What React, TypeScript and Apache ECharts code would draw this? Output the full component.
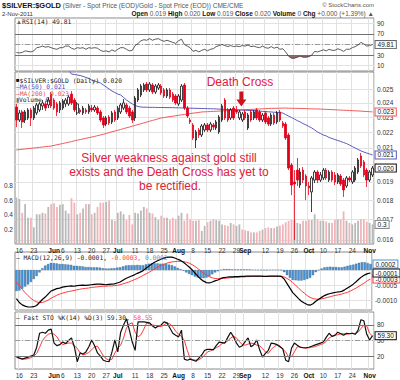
import React, { useEffect, useRef } from "react";
import * as echarts from "echarts";

// ---------- calendar (trading days) ----------
const MAY_DAYS = [13, 16, 17, 18, 19, 20, 23, 24, 25, 26, 27, 30, 31];
const JUN_DAYS = [1, 2, 3, 6, 7, 8, 9, 10, 13, 14, 15, 16, 17, 20, 21, 22, 23, 24, 27, 28, 29, 30];
const JUL_DAYS = [1, 4, 5, 6, 7, 8, 11, 12, 13, 14, 15, 18, 19, 20, 21, 22, 25, 26, 27, 28, 29];
const AUG_DAYS = [1, 2, 3, 4, 5, 8, 9, 10, 11, 12, 15, 16, 17, 18, 19, 22, 23, 24, 25, 26, 29, 30, 31];
const SEP_DAYS = [1, 2, 5, 6, 7, 8, 9, 12, 13, 14, 15, 16, 19, 20, 21, 22, 23, 26, 27, 28, 29, 30];
const OCT_DAYS = [3, 4, 5, 6, 7, 10, 11, 12, 13, 14, 17, 18, 19, 20, 21, 24, 25, 26, 27, 28, 31];
const NOV_DAYS = [1, 2];

const pad = (d: number) => (d < 10 ? "0" + d : "" + d);
const DATES: string[] = [
  ...MAY_DAYS.map((d) => `2011-05-${pad(d)}`),
  ...JUN_DAYS.map((d) => `2011-06-${pad(d)}`),
  ...JUL_DAYS.map((d) => `2011-07-${pad(d)}`),
  ...AUG_DAYS.map((d) => `2011-08-${pad(d)}`),
  ...SEP_DAYS.map((d) => `2011-09-${pad(d)}`),
  ...OCT_DAYS.map((d) => `2011-10-${pad(d)}`),
  ...NOV_DAYS.map((d) => `2011-11-${pad(d)}`),
];

const LABEL_DATES = [
  "2011-05-16", "2011-05-23", "2011-06-01", "2011-06-06", "2011-06-13", "2011-06-20", "2011-06-27",
  "2011-07-01", "2011-07-11", "2011-07-18", "2011-07-25", "2011-08-01", "2011-08-08", "2011-08-15",
  "2011-08-22", "2011-08-29", "2011-09-01", "2011-09-12", "2011-09-19", "2011-09-26", "2011-10-03",
  "2011-10-10", "2011-10-17", "2011-10-24", "2011-11-01",
];
const LABEL_TEXT = [
  "16", "23", "Jun", "6", "13", "20", "27", "Jul", "11", "18", "25", "Aug", "8", "15",
  "22", "29", "Sep", "12", "19", "26", "Oct", "10", "17", "24", "Nov",
];

// ---------- price (OHLC) ----------
const OPEN = [
  0.0237, 0.02281, 0.02336, 0.02281, 0.02295, 0.0235, 0.02295, 0.02329, 0.0235, 0.02378,
  0.02392, 0.02385, 0.02463, 0.0242, 0.02392, 0.0235, 0.02363, 0.02392, 0.02392, 0.02463,
  0.0242, 0.02329, 0.0235, 0.02329, 0.0235, 0.02336, 0.02363, 0.0235, 0.02363, 0.02336,
  0.02295, 0.02254, 0.02301, 0.02268, 0.02336, 0.02295, 0.02336, 0.02363, 0.02385, 0.02363,
  0.02336, 0.02295, 0.0242, 0.02456, 0.02493, 0.02537, 0.02493, 0.0253, 0.02478, 0.02507,
  0.02522, 0.02493, 0.02449, 0.02493, 0.02463, 0.02449, 0.02392, 0.0242, 0.0253, 0.02363,
  0.02281, 0.02248, 0.0215, 0.02215, 0.02182, 0.02215, 0.02248, 0.02215, 0.02248, 0.02228,
  0.02202, 0.02281, 0.0242, 0.0235, 0.02295, 0.02363, 0.0235, 0.02295, 0.02281, 0.02336,
  0.02228, 0.02336, 0.02295, 0.0235, 0.02336, 0.02281, 0.02329, 0.02295, 0.02254, 0.02315,
  0.02268, 0.02336, 0.02261, 0.02254, 0.02182, 0.01997, 0.01899, 0.01967, 0.01882, 0.01967,
  0.01933, 0.01877, 0.01844, 0.0191, 0.01956, 0.0191, 0.01922, 0.01967, 0.0191, 0.01956,
  0.01939, 0.01899, 0.01933, 0.0191, 0.01877, 0.01922, 0.01899, 0.0191, 0.01956, 0.02051,
  0.02015, 0.01967, 0.0191, 0.01939,
];
const CLOSE = [
  0.02281, 0.02329, 0.02268, 0.02336, 0.0235, 0.02295, 0.02363, 0.02385, 0.02392, 0.02399,
  0.02363, 0.0242, 0.02378, 0.02363, 0.02336, 0.02399, 0.02413, 0.0242, 0.02441, 0.02399,
  0.0235, 0.02392, 0.02336, 0.02363, 0.02336, 0.02378, 0.0235, 0.0237, 0.02329, 0.02281,
  0.02248, 0.02295, 0.02261, 0.02329, 0.02281, 0.02363, 0.02385, 0.02399, 0.02336, 0.02308,
  0.02281, 0.02434, 0.02493, 0.02522, 0.0253, 0.02493, 0.02537, 0.02478, 0.02522, 0.0253,
  0.02471, 0.02449, 0.02493, 0.02441, 0.0242, 0.02399, 0.02449, 0.02522, 0.02363, 0.02308,
  0.02268, 0.02163, 0.02202, 0.02182, 0.02241, 0.02248, 0.02215, 0.02254, 0.02234, 0.02268,
  0.02301, 0.02378, 0.02295, 0.02281, 0.0235, 0.02295, 0.02336, 0.02336, 0.02322, 0.02295,
  0.02315, 0.02281, 0.02336, 0.02295, 0.02281, 0.02315, 0.02268, 0.02254, 0.02315, 0.02261,
  0.02329, 0.02281, 0.02241, 0.02163, 0.01979, 0.01882, 0.01888, 0.0191, 0.01956, 0.0191,
  0.01877, 0.01866, 0.01922, 0.01956, 0.0191, 0.01939, 0.01967, 0.01922, 0.01956, 0.0191,
  0.01899, 0.01939, 0.01888, 0.01855, 0.01922, 0.0191, 0.01956, 0.01979, 0.02027, 0.01991,
  0.01939, 0.0191, 0.01956, 0.01979,
];
const LOW = [
  0.02234, 0.02268, 0.02228, 0.02261, 0.02281, 0.02241, 0.02281, 0.02315, 0.02336, 0.0235,
  0.02343, 0.02363, 0.02363, 0.0235, 0.02308, 0.02329, 0.0235, 0.0237, 0.02378, 0.02385,
  0.02336, 0.02315, 0.02322, 0.02315, 0.02322, 0.02322, 0.02336, 0.02336, 0.02315, 0.02268,
  0.02228, 0.02241, 0.02248, 0.02254, 0.02268, 0.02281, 0.02322, 0.0235, 0.02322, 0.02295,
  0.02261, 0.02274, 0.02406, 0.02441, 0.02478, 0.02478, 0.02478, 0.02463, 0.02463, 0.02493,
  0.02456, 0.02434, 0.02434, 0.02427, 0.02406, 0.02385, 0.02378, 0.02406, 0.0235, 0.02295,
  0.02254, 0.0215, 0.021, 0.02163, 0.02169, 0.02202, 0.02202, 0.02202, 0.02215, 0.02215,
  0.02189, 0.02268, 0.02281, 0.02268, 0.02281, 0.02281, 0.02322, 0.02281, 0.02268, 0.02281,
  0.02215, 0.02268, 0.02281, 0.02281, 0.02268, 0.02268, 0.02254, 0.02241, 0.02241, 0.02248,
  0.02254, 0.02268, 0.02228, 0.0215, 0.01967, 0.01827, 0.016, 0.01877, 0.01866, 0.01893,
  0.018, 0.01827, 0.01738, 0.01893, 0.01893, 0.01899, 0.0191, 0.0191, 0.01899, 0.01899,
  0.01882, 0.01888, 0.01877, 0.01817, 0.01866, 0.01899, 0.01888, 0.01899, 0.01944, 0.01979,
  0.01927, 0.01871, 0.01899, 0.01927,
];
const HIGH = [
  0.02392, 0.0235, 0.0235, 0.0235, 0.02363, 0.02363, 0.02378, 0.02399, 0.02406, 0.0242,
  0.02413, 0.02441, 0.02478, 0.02434, 0.02406, 0.02413, 0.02427, 0.02434, 0.02456, 0.02485,
  0.02434, 0.02406, 0.02363, 0.02378, 0.02363, 0.02392, 0.02385, 0.02385, 0.02378, 0.0235,
  0.02308, 0.02308, 0.02315, 0.02343, 0.0235, 0.02378, 0.02399, 0.02427, 0.02399, 0.02378,
  0.0235, 0.02449, 0.02507, 0.02537, 0.02545, 0.02552, 0.02552, 0.02545, 0.02537, 0.02545,
  0.02537, 0.02507, 0.02507, 0.02507, 0.02478, 0.02463, 0.02463, 0.02537, 0.02545, 0.02378,
  0.02295, 0.02261, 0.02215, 0.02228, 0.02254, 0.02261, 0.02261, 0.02268, 0.02261, 0.02281,
  0.02315, 0.02392, 0.02434, 0.02363, 0.02363, 0.02378, 0.02378, 0.0235, 0.02336, 0.0235,
  0.02329, 0.0235, 0.0235, 0.02363, 0.0235, 0.02329, 0.02343, 0.02308, 0.02329, 0.02329,
  0.02343, 0.0235, 0.02274, 0.02268, 0.02195, 0.02009, 0.01967, 0.02039, 0.01979, 0.01985,
  0.01944, 0.01899, 0.01933, 0.01967, 0.01967, 0.01956, 0.01979, 0.01979, 0.01967, 0.01967,
  0.01956, 0.0195, 0.01944, 0.01922, 0.01933, 0.01933, 0.01967, 0.01991, 0.02039, 0.02069,
  0.02027, 0.01979, 0.01967, 0.01991,
];
const MA50 = [
  0.027, 0.02698, 0.02696, 0.02694, 0.02692, 0.0269, 0.02688, 0.02686, 0.02684, 0.02682,
  0.0268, 0.02677, 0.02674, 0.02671, 0.02667, 0.02663, 0.02658, 0.02652, 0.02645,
  0.02613, 0.0261, 0.02606, 0.02602, 0.02595, 0.02587, 0.0258, 0.02567, 0.0256, 0.02552,
  0.02545, 0.0253, 0.02515, 0.025, 0.02485, 0.02474, 0.02463, 0.02456, 0.02438, 0.0242,
  0.02406, 0.02392, 0.02381, 0.02374, 0.0237,
  0.02369, 0.02369, 0.02368, 0.02368, 0.02368, 0.02367, 0.02367, 0.02367, 0.02366, 0.02366,
  0.02366, 0.02365, 0.02365, 0.02364,
  0.02364, 0.02363, 0.02362, 0.02362, 0.02361, 0.02361, 0.0236, 0.0236, 0.02359, 0.02358,
  0.02358, 0.02357, 0.02356,
  0.02355, 0.02354, 0.02353, 0.02353, 0.02352, 0.02351, 0.0235,
  0.02349, 0.02348, 0.02347, 0.02346,
  0.02345, 0.02343, 0.02342, 0.0234, 0.02339, 0.02337, 0.02336, 0.02334, 0.02333, 0.02331, 0.02329,
  0.02318, 0.02308, 0.02298, 0.02288, 0.02277, 0.02268, 0.02257, 0.02248, 0.02238, 0.02228,
  0.02215, 0.02202,
  0.02192, 0.02182, 0.02176, 0.02166, 0.0216, 0.02153, 0.02147, 0.02141, 0.02134, 0.02128, 0.02119,
  0.02109, 0.021, 0.02091, 0.02082, 0.02075, 0.02069, 0.02063, 0.02057,
];
const MA200 = [
  0.02088, 0.0209, 0.02092, 0.02094, 0.02096, 0.02098, 0.021, 0.02102, 0.02104, 0.02106,
  0.02108, 0.0211, 0.02112,
  0.02116, 0.0212, 0.02124, 0.02128, 0.02132, 0.02136, 0.0214, 0.02145, 0.02149, 0.02153,
  0.02157, 0.02161, 0.02165, 0.02169, 0.02173, 0.02178, 0.02182,
  0.02187, 0.02192, 0.02198, 0.02203, 0.02208, 0.02213, 0.02218, 0.02224, 0.02229, 0.02234,
  0.0224, 0.02245, 0.02251, 0.02256, 0.02262, 0.02267, 0.02273, 0.02278, 0.02284, 0.02289, 0.02295,
  0.02298, 0.02301, 0.02304, 0.02307, 0.0231, 0.02313, 0.02316, 0.02319, 0.02322, 0.02325,
  0.02328, 0.0233, 0.02333, 0.02336,
  0.02337, 0.02338, 0.02339, 0.0234, 0.02341, 0.02342, 0.02343, 0.02344, 0.02345, 0.02346,
  0.02347, 0.02349, 0.0235,
  0.02351, 0.02352, 0.02353, 0.02354, 0.02355, 0.02356, 0.02357, 0.02358, 0.02359, 0.0236,
  0.02361, 0.02361, 0.02362, 0.02362, 0.02363,
  0.02363, 0.02362, 0.02362, 0.02361, 0.02361, 0.0236, 0.0236, 0.02359, 0.02358, 0.02358,
  0.02357, 0.02357, 0.02356,
  0.02355, 0.02354, 0.02353, 0.02352, 0.02351, 0.0235, 0.02349, 0.02348, 0.02347, 0.02346,
  0.02345, 0.02344, 0.02343, 0.02342, 0.0234, 0.02339, 0.02338, 0.02336,
];
const VOLUME = [
  0.64, 0.62, 0.43, 0.55, 0.36, 0.36, 0.23, 0.41, 0.41, 0.43,
  0.42, 0.51, 0.55, 0.56, 0.51, 0.54, 0.55, 0.46, 0.42, 0.63,
  0.57, 0.41, 0.43, 0.49, 0.55, 0.55, 0.41, 0.43, 0.51, 0.57,
  0.57, 0.58, 0.6, 0.33, 0.32, 0.43, 0.45, 0.41, 0.33, 0.4,
  0.27, 0.43, 0.42, 0.46, 0.51, 0.49, 0.43, 0.42, 0.37, 0.33,
  0.39, 0.36, 0.36, 0.33, 0.36, 0.34, 0.39, 0.43, 0.32, 0.42,
  0.34, 0.32, 0.32, 0.33, 0.18, 0.25, 0.3, 0.32, 0.34, 0.33,
  0.32, 0.27, 0.26, 0.25, 0.29, 0.27, 0.25, 0.27, 0.2, 0.19,
  0.18, 0.16, 0.16, 0.16, 0.18, 0.2, 0.22, 0.23, 0.22, 0.22,
  0.24, 0.25, 0.27, 0.3, 0.32, 0.33, 0.33, 0.29, 0.28, 0.32,
  0.32, 0.33, 0.33, 0.41, 0.34, 0.32, 0.32, 0.31, 0.29, 0.29,
  0.33, 0.34, 0.34, 0.45, 0.32, 0.29, 0.27, 0.29, 0.32, 0.34,
  0.34, 0.31, 0.29, 0.27,
];

// ---------- indicators ----------
const RSI = [
  35, 34, 35, 38, 37, 36, 38, 44, 45, 47,
  45, 46, 44, 42, 41, 44, 44, 47, 47, 43,
  41, 44, 43, 44, 41, 44, 43, 44, 43, 39,
  37, 38, 36, 40, 37, 41, 44, 44, 41, 38,
  39, 48, 52, 57, 59, 58, 61, 58, 60, 61,
  58, 56, 58, 56, 54, 52, 57, 60, 50, 47,
  44, 37, 39, 36, 39, 41, 38, 41, 42, 46,
  48, 50, 48, 46, 48, 46, 47, 46, 48, 47,
  49, 46, 47, 45, 44, 47, 44, 43, 46, 43,
  45, 41, 42, 36, 28, 24, 24, 26, 28, 26,
  26, 27, 30, 37, 36, 38, 40, 38, 41, 39,
  39, 42, 40, 37, 41, 41, 44, 46, 49, 54,
  51, 47, 48, 49.81,
];
const MACD = [
  -0.00095, -0.00108, -0.00116, -0.0012, -0.00123, -0.00123, -0.00122, -0.00118, -0.00108, -0.00098,
  -0.0009, -0.0008, -0.0007, -0.00066, -0.00062, -0.0006, -0.00057, -0.00055, -0.00054, -0.00053,
  -0.00054, -0.00052, -0.00051, -0.0005, -0.00051, -0.0005, -0.00049, -0.00048, -0.00047, -0.00047,
  -0.00048, -0.00049, -0.00048, -0.00047, -0.00046, -0.00043, -0.0004, -0.00034, -0.00028, -0.00024,
  -0.0002, -0.00016, -0.00011, -0.00007, -0.00002, 0.00006, 0.00013, 0.0002, 0.00026, 0.00031,
  0.00035, 0.00039, 0.00042, 0.00043, 0.00043, 0.0004, 0.00036, 0.00032, 0.00026, 0.00018,
  0.0001, 0.00001, -0.0001, -0.0002, -0.0003, -0.00037, -0.00042, -0.00043, -0.0004, -0.00036,
  -0.00033, -0.00028, -0.00025, -0.00024, -0.00023, -0.00023, -0.00022, -0.00022, -0.00021, -0.00021,
  -0.0002, -0.0002, -0.0002, -0.0002, -0.0002, -0.0002, -0.00021, -0.00021, -0.0002, -0.0002,
  -0.0002, -0.0002, -0.00021, -0.0003, -0.00045, -0.0006, -0.00075, -0.00085, -0.00095, -0.00104,
  -0.0011, -0.00115, -0.00117, -0.00112, -0.00104, -0.00097, -0.00091, -0.00085, -0.00081, -0.00078,
  -0.00076, -0.00074, -0.00073, -0.00071, -0.00066, -0.0006, -0.00054, -0.00047, -0.00039, -0.0003,
  -0.00022, -0.00016, -0.00012, -0.0001,
];
const SIGNAL = [
  -0.0004, -0.00052, -0.00064, -0.00075, -0.00085, -0.00094, -0.00101, -0.00106, -0.00108, -0.00108,
  -0.00105, -0.001, -0.00094, -0.00089, -0.00084, -0.0008, -0.00077, -0.00074, -0.00072, -0.0007,
  -0.00068, -0.00066, -0.00064, -0.00062, -0.00061, -0.0006, -0.00058, -0.00057, -0.00056, -0.00055,
  -0.00054, -0.00054, -0.00053, -0.00053, -0.00052, -0.00051, -0.00049, -0.00046, -0.00043, -0.0004,
  -0.00036, -0.00032, -0.00028, -0.00023, -0.00018, -0.00013, -0.00008, -0.00002, 0.00004, 0.00009,
  0.00014, 0.00018, 0.00022, 0.00025, 0.00027, 0.00028, 0.00029, 0.00029, 0.00028, 0.00026,
  0.00023, 0.00018, 0.00012, 0.00005, -0.00003, -0.0001, -0.00017, -0.00022, -0.00026, -0.00028,
  -0.00029, -0.00029, -0.00028, -0.00027, -0.00026, -0.00025, -0.00024, -0.00024, -0.00023, -0.00023,
  -0.00022, -0.00022, -0.00021, -0.00021, -0.00021, -0.00021, -0.00021, -0.00021, -0.00021, -0.00021,
  -0.00021, -0.00021, -0.00021, -0.00023, -0.00028, -0.00034, -0.00042, -0.00051, -0.0006, -0.00069,
  -0.00077, -0.00085, -0.00091, -0.00095, -0.00097, -0.00097, -0.00096, -0.00094, -0.00091, -0.00089,
  -0.00086, -0.00084, -0.00082, -0.0008, -0.00077, -0.00074, -0.0007, -0.00065, -0.0006, -0.00054,
  -0.00048, -0.00042, -0.00035, -0.0003,
];
const HIST = [
  -0.0007, -0.00068, -0.00062, -0.00055, -0.00048, -0.0004, -0.0003, -0.0002, -0.00008, 0.00006,
  0.00015, 0.0002, 0.00024, 0.00023, 0.00022, 0.0002, 0.0002, 0.00019, 0.00018, 0.00017,
  0.00014, 0.00014, 0.00013, 0.00012, 0.0001, 0.0001, 0.00009, 0.00009, 0.00009, 0.00008,
  0.00006, 0.00005, 0.00005, 0.00006, 0.00006, 0.00008, 0.00009, 0.00012, 0.00015, 0.00016,
  0.00016, 0.00016, 0.00017, 0.00016, 0.00016, 0.00019, 0.00021, 0.00022, 0.00022, 0.00022,
  0.00021, 0.00021, 0.0002, 0.00018, 0.00016, 0.00012, 0.00007, 0.00003, -0.00002, -0.00008,
  -0.00013, -0.00017, -0.00022, -0.00025, -0.00027, -0.00027, -0.00025, -0.00021, -0.00014, -0.00008,
  -0.00004, 0.00001, 0.00003, 0.00003, 0.00003, 0.00002, 0.00002, 0.00002, 0.00002, 0.00002,
  0.00002, 0.00002, 0.00001, 0.00001, 0.00001, 0.00001, 0, 0, 0.00001, 0.00001,
  0.00001, 0.00001, 0, -0.00007, -0.00017, -0.00026, -0.00033, -0.00034, -0.00035, -0.00035,
  -0.00033, -0.0003, -0.00026, -0.00017, -0.00007, 0, 0.00005, 0.00009, 0.0001, 0.00011,
  0.0001, 0.0001, 0.00009, 0.00009, 0.00011, 0.00014, 0.00016, 0.00018, 0.00021, 0.00024,
  0.00026, 0.00026, 0.00023, 0.0002,
];
const STO_K = [
  19, 16, 14, 16, 18, 20, 22, 37, 64, 66,
  64, 70, 72, 45, 40, 42, 47, 44, 50, 55,
  38, 9, 26, 24, 28, 38, 51, 40, 26, 20,
  12, 10, 9, 28, 51, 28, 66, 80, 92, 70,
  47, 31, 86, 86, 86, 85, 84, 78, 74, 78,
  80, 86, 84, 74, 64, 60, 57, 70, 14, 12,
  14, 12, 10, 16, 22, 31, 33, 33, 32, 40,
  47, 46, 45, 56, 66, 57, 45, 37, 40, 48,
  55, 38, 42, 51, 32, 18, 25, 31, 45, 44,
  42, 38, 34, 12, 9, 35, 45, 41, 37, 36,
  36, 37, 39, 41, 43, 45, 47, 56, 64, 58,
  60, 66, 63, 60, 64, 63, 64, 62, 70, 90,
  88, 62, 51, 59.3,
];
const STO_D = [
  17, 16, 15, 14, 15, 17, 20, 25, 37, 50,
  57, 62, 64, 62, 57, 48, 42, 44, 45, 45,
  40, 35, 26, 22, 24, 27, 32, 38, 39, 30,
  20, 15, 12, 14, 26, 35, 41, 55, 74, 82,
  84, 66, 57, 61, 72, 84, 82, 80, 79, 77,
  77, 80, 84, 82, 76, 68, 62, 58, 50, 31,
  15, 13, 12, 13, 16, 22, 28, 30, 33, 36,
  39, 44, 46, 49, 55, 58, 55, 48, 42, 41,
  43, 45, 44, 41, 40, 34, 28, 25, 33, 38,
  42, 40, 33, 28, 18, 19, 28, 38, 38, 36,
  35, 36, 37, 38, 40, 42, 44, 48, 55, 58,
  61, 61, 63, 63, 62, 63, 64, 63, 66, 73,
  80, 78, 64, 58.55,
];

// grid-line values and the axis labels that show (labels hidden under value flags are left out)
const RSI_GRID = [10, 30, 50, 70, 90];
const RSI_LABELS = [10, 30, 70, 90];
const PRICE_GRID = [0.016, 0.017, 0.018, 0.019, 0.02, 0.021, 0.022, 0.023, 0.024, 0.025];
const PRICE_LABELS = [0.016, 0.017, 0.018, 0.019, 0.021, 0.022, 0.023, 0.024, 0.025];
const MACD_GRID = [0, -0.0005, -0.001];
const MACD_LABELS = [-0.0005, -0.001];
const STO_GRID = [20, 50, 80];
const STO_LABELS = [20, 50, 80];
const PRICE_MIN = 0.01581;
const PRICE_MAX = 0.02629;
const DEATH_CROSS_DATE = "2011-08-30";

const HEADER_LEFT = "{t|$SILVER:$GOLD} {s|(Silver - Spot Price (EOD)/Gold - Spot Price (EOD)) CME/CME}";
const HEADER_RIGHT =
  "{b|Open} 0.019 {b|High} 0.020 {b|Low} 0.019 {b|Close} 0.020 {b|Volume} 0 {b|Chg} +0.000 (+1.39%) ▲";

const FONT = "'Liberation Sans', Arial, sans-serif";
const MONO = "'DejaVu Sans Mono', monospace";
const GRID_LINE = "#e2e2e2";

function buildOption(): any {
  const labelSet = new Set(LABEL_DATES);
  const isLabel = (_: number, v: string) => labelSet.has(v);
  const labelFmt = (v: string) => {
    const k = LABEL_DATES.indexOf(v);
    if (k < 0) return "";
    const t = LABEL_TEXT[k];
    return /^[A-Z]/.test(t) ? `{m|${t}}` : t;
  };
  const L = (v: number) => Math.log(v);

  const xAxis = (gi: number, show: boolean) => ({
    type: "category",
    gridIndex: gi,
    data: DATES,
    axisLine: { show: false },
    axisTick: { show: false },
    axisLabel: {
      show,
      interval: isLabel,
      formatter: labelFmt,
      fontSize: 6.5,
      fontFamily: FONT,
      color: "#333",
      margin: 3,
      rich: { m: { fontSize: 6.5, fontWeight: "bold", fontFamily: FONT, color: "#111" } },
    },
    splitLine: { show: true, interval: isLabel, lineStyle: { color: GRID_LINE, width: 1 } },
  });

  const yAxis = (
    gi: number,
    min: number,
    max: number,
    gridVals: number[],
    labelVals: number[],
    fmt: (v: number) => string
  ) => ({
    type: "value",
    gridIndex: gi,
    position: "right",
    min,
    max,
    axisLine: { show: false },
    axisTick: { show: false, customValues: gridVals },
    axisLabel: { customValues: labelVals, formatter: fmt, fontSize: 6.5, fontFamily: FONT, color: "#333", margin: 3 },
    splitLine: { show: true, lineStyle: { color: GRID_LINE, width: 1 } },
  });

  const flag = (border: string, fmt: (p: any) => string, color = "#111") => ({
    show: true,
    formatter: fmt,
    distance: 3,
    fontSize: 6.5,
    fontFamily: FONT,
    color,
    backgroundColor: "#fff",
    borderColor: border,
    borderWidth: 1,
    padding: [0, 2, 0, 2],
  });

  const hidden = { color: "rgba(0,0,0,0)", width: 1 };

  const refLines = (hi: number, lo: number, mid: number) => ({
    silent: true,
    symbol: "none",
    label: { show: false },
    animation: false,
    data: [
      { yAxis: hi, lineStyle: { color: "#707070", width: 1, type: "solid" } },
      { yAxis: lo, lineStyle: { color: "#707070", width: 1, type: "solid" } },
      { yAxis: mid, lineStyle: { color: "#9a9a9a", width: 1, type: [5, 2, 1, 2] } },
    ],
  });

  const txt = (x: number, y: number, text: string, style: any = {}) => ({
    type: "text",
    x,
    y,
    silent: true,
    z: 100,
    style: {
      text,
      fontSize: 6.5,
      fontFamily: FONT,
      fill: "#222",
      align: "left",
      textAlign: "left",
      verticalAlign: "middle",
      textVerticalAlign: "middle",
      ...style,
    },
  });

  const grid = (top: number, height: number) => ({
    left: 15,
    right: 26,
    top,
    height,
    show: true,
    borderColor: "#8a8a8a",
    borderWidth: 1,
    backgroundColor: "#fff",
  });

  const crossIdx = DATES.indexOf(DEATH_CROSS_DATE);

  return {
    animation: false,
    backgroundColor: "#fff",
    grid: [grid(18, 53), grid(72, 172), grid(252, 58), grid(312, 57)],
    xAxis: [xAxis(0, false), xAxis(1, true), xAxis(2, false), xAxis(3, true)],
    yAxis: [
      yAxis(0, 0, 100, RSI_GRID, RSI_LABELS, (v) => String(v)),
      yAxis(1, L(PRICE_MIN), L(PRICE_MAX), PRICE_GRID.map(L), PRICE_LABELS.map(L), (v) => Math.exp(v).toFixed(3)),
      {
        type: "value",
        gridIndex: 1,
        position: "left",
        min: 0,
        max: 2.37,
        interval: 0.2,
        axisLine: { show: false },
        axisTick: { show: false },
        splitLine: { show: false },
        axisLabel: {
          formatter: (v: number) => (v > 0.1 && v < 0.9 ? v.toFixed(1) : ""),
          fontSize: 6.5,
          fontFamily: FONT,
          color: "#333",
          margin: 2,
        },
      },
      yAxis(2, -0.00133, 0.0006, MACD_GRID, MACD_LABELS, (v) => v.toFixed(4)),
      yAxis(3, -5, 105, STO_GRID, STO_LABELS, (v) => String(v)),
    ],
    series: [
      // ---- RSI ----
      {
        type: "line",
        xAxisIndex: 0,
        yAxisIndex: 0,
        stack: "rsiLow",
        data: RSI.map((v) => Math.min(v, 30)),
        symbol: "none",
        silent: true,
        lineStyle: hidden,
      },
      {
        type: "line",
        xAxisIndex: 0,
        yAxisIndex: 0,
        stack: "rsiLow",
        data: RSI.map((v) => 30 - Math.min(v, 30)),
        symbol: "none",
        silent: true,
        lineStyle: hidden,
        areaStyle: { color: "#8a5a55", opacity: 0.9 },
      },
      {
        type: "line",
        xAxisIndex: 0,
        yAxisIndex: 0,
        data: RSI,
        symbol: "none",
        z: 5,
        lineStyle: { color: "#333", width: 0.8 },
        markLine: refLines(70, 30, 50),
        endLabel: flag("#666", (p: any) => Number(p.value).toFixed(2)),
      },
      // ---- Volume ----
      {
        type: "bar",
        xAxisIndex: 1,
        yAxisIndex: 2,
        barWidth: "62%",
        z: 1,
        data: VOLUME.map((v, i) => ({
          value: v,
          itemStyle: { color: i > 0 && CLOSE[i] < CLOSE[i - 1] ? "#f0b4b8" : "#b9b9b9" },
        })),
      },
      {
        type: "line",
        xAxisIndex: 1,
        yAxisIndex: 2,
        data: VOLUME,
        symbol: "none",
        silent: true,
        lineStyle: hidden,
        endLabel: flag("#888", (p: any) => Number(p.value).toFixed(1)),
      },
      // ---- Price ----
      {
        type: "line",
        xAxisIndex: 1,
        yAxisIndex: 1,
        data: MA200.map(L),
        symbol: "none",
        z: 3,
        lineStyle: { color: "#f05a5a", width: 1 },
        endLabel: flag("#f05a5a", (p: any) => Math.exp(p.value).toFixed(3)),
      },
      {
        type: "line",
        xAxisIndex: 1,
        yAxisIndex: 1,
        data: MA50.map(L),
        symbol: "none",
        z: 3,
        lineStyle: { color: "#5a5abf", width: 1 },
        endLabel: flag("#5a5abf", (p: any) => Math.exp(p.value).toFixed(3)),
        markPoint: {
          silent: true,
          symbol: "path://M3,0L7,0L7,8L10,8L5,15L0,8L3,8Z",
          symbolSize: [10, 15],
          symbolOffset: [2, -11],
          itemStyle: { color: "#c8141e" },
          label: { show: false },
          data: [{ coord: [DEATH_CROSS_DATE, L(MA50[crossIdx])] }],
        },
      },
      {
        type: "candlestick",
        xAxisIndex: 1,
        yAxisIndex: 1,
        z: 4,
        barWidth: "70%",
        data: OPEN.map((o, i) => [L(o), L(CLOSE[i]), L(LOW[i]), L(HIGH[i])]),
        itemStyle: {
          color: "#ffffff",
          color0: "#e3001b",
          borderColor: "#111111",
          borderColor0: "#e3001b",
          borderWidth: 0.8,
        },
      },
      {
        type: "line",
        xAxisIndex: 1,
        yAxisIndex: 1,
        data: CLOSE.map(L),
        symbol: "none",
        silent: true,
        lineStyle: hidden,
        endLabel: flag("#111", (p: any) => Math.exp(p.value).toFixed(3)),
      },
      // ---- MACD ----
      {
        type: "bar",
        xAxisIndex: 2,
        yAxisIndex: 3,
        data: HIST,
        barWidth: "80%",
        itemStyle: { color: "#4a94d4", borderColor: "#24507a", borderWidth: 0.3 },
        z: 1,
      },
      {
        type: "line",
        xAxisIndex: 2,
        yAxisIndex: 3,
        data: HIST,
        symbol: "none",
        silent: true,
        lineStyle: hidden,
        endLabel: flag("#4a94d4", (p: any) => Number(p.value).toFixed(4)),
      },
      {
        type: "line",
        xAxisIndex: 2,
        yAxisIndex: 3,
        data: SIGNAL,
        symbol: "none",
        z: 3,
        lineStyle: { color: "#ff3b3b", width: 1 },
        endLabel: flag("#ff3b3b", (p: any) => Number(p.value).toFixed(4)),
      },
      {
        type: "line",
        xAxisIndex: 2,
        yAxisIndex: 3,
        data: MACD,
        symbol: "none",
        z: 4,
        lineStyle: { color: "#000", width: 1.2 },
        endLabel: flag("#111", (p: any) => Number(p.value).toFixed(4)),
      },
      // ---- Stochastics ----
      {
        type: "line",
        xAxisIndex: 3,
        yAxisIndex: 4,
        data: STO_D,
        symbol: "none",
        z: 3,
        lineStyle: { color: "#ff3b3b", width: 1 },
        markLine: refLines(80, 20, 50),
      },
      {
        type: "line",
        xAxisIndex: 3,
        yAxisIndex: 4,
        data: STO_K,
        symbol: "none",
        z: 4,
        lineStyle: { color: "#111", width: 1.2 },
        endLabel: flag("#111", (p: any) => Number(p.value).toFixed(2)),
      },
    ],
    graphic: [
      txt(2, 5, HEADER_LEFT, {
        rich: {
          t: { fontSize: 7.5, fontWeight: "bold", fontFamily: FONT, fill: "#111" },
          s: { fontSize: 6.5, fontFamily: FONT, fill: "#555" },
        },
      }),
      txt(374, 5, "© StockCharts.com", { align: "right", textAlign: "right", fontSize: 6, fill: "#555" }),
      txt(2, 13.5, "2-Nov-2011", { fontSize: 6, fill: "#333" }),
      txt(374, 13.5, HEADER_RIGHT, {
        align: "right",
        textAlign: "right",
        fontSize: 6.5,
        fill: "#555",
        rich: { b: { fontWeight: "bold", fontSize: 6.5, fontFamily: FONT, fill: "#111" } },
      }),
      // panel legends
      txt(16, 21.5, "{g|▲}RSI(14) 49.81", {
        fontFamily: MONO,
        fontSize: 6.3,
        fill: "#222",
        rich: { g: { fill: "#5a6b3a", fontSize: 6 } },
      }),
      txt(16, 80, "{k|■}$SILVER:$GOLD (Daily) 0.020", {
        fontFamily: MONO,
        fontSize: 6.3,
        fill: "#222",
        rich: { k: { fill: "#111", fontSize: 6 } },
      }),
      txt(16, 86.5, "—MA(50) 0.021", { fontFamily: MONO, fontSize: 6.3, fill: "#4a4ab8" }),
      txt(16, 93, "—MA(200) 0.023", { fontFamily: MONO, fontSize: 6.3, fill: "#e84a4a" }),
      txt(16, 99.5, "{k|▮}Volume 0", {
        fontFamily: MONO,
        fontSize: 6.3,
        fill: "#222",
        rich: { k: { fill: "#777", fontSize: 6 } },
      }),
      txt(16, 257, "{k|—} MACD(12,26,9) -0.0001, {r|-0.0003,} {b|0.0002}", {
        fontFamily: MONO,
        fontSize: 6.3,
        fill: "#222",
        rich: { k: { fill: "#111" }, r: { fill: "#ff3b3b" }, b: { fill: "#4a94d4" } },
      }),
      txt(16, 317, "{k|—} Fast STO %K(14) %D(3) 59.30, {r|58.55}", {
        fontFamily: MONO,
        fontSize: 6.3,
        fill: "#222",
        rich: { k: { fill: "#111" }, r: { fill: "#ff3b3b" } },
      }),
      // annotations
      txt(240, 82, "Death Cross", { align: "center", textAlign: "center", fontSize: 12, fill: "#e0203c" }),
      txt(169, 158, "Silver weakness against gold still", {
        align: "center",
        textAlign: "center",
        fontSize: 12,
        fill: "#e0203c",
      }),
      txt(169, 171.5, "exists and the Death Cross has yet to", {
        align: "center",
        textAlign: "center",
        fontSize: 12,
        fill: "#e0203c",
      }),
      txt(170, 185.5, "be rectified.", { align: "center", textAlign: "center", fontSize: 12, fill: "#e0203c" }),
    ],
  };
}

export default function App() {
  const ref = useRef<HTMLDivElement>(null);
  useEffect(() => {
    document.body.style.margin = "0";
    const chart = echarts.init(ref.current as HTMLDivElement, null, { renderer: "svg" });
    chart.setOption(buildOption());
    return () => chart.dispose();
  }, []);
  return <div ref={ref} style={{ width: 400, height: 380 }} />;
}
